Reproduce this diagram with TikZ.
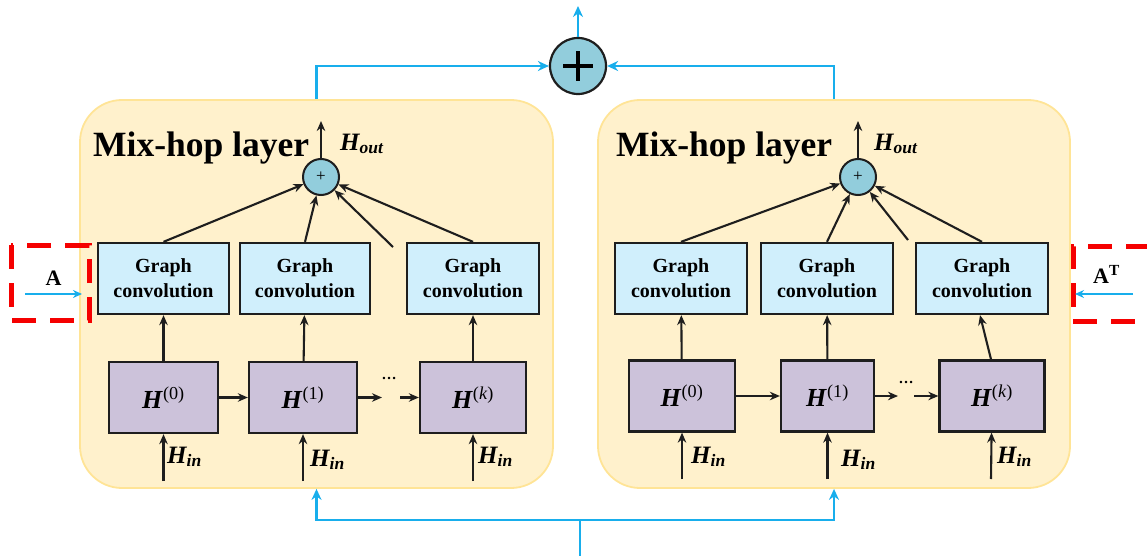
\documentclass[tikz,border=0pt]{standalone}
\usepackage{fontspec}
\setmainfont{Liberation Serif}
\usetikzlibrary{arrows.meta}
\definecolor{panelY}{RGB}{255,241,204}
\definecolor{panelB}{RGB}{255,228,150}
\definecolor{convB}{RGB}{208,239,252}
\definecolor{hP}{RGB}{204,194,218}
\definecolor{circB}{RGB}{146,205,220}
\definecolor{bl}{RGB}{24,174,236}
\definecolor{boxK}{RGB}{30,30,30}
\definecolor{redD}{RGB}{245,0,0}
\begin{document}
\begin{tikzpicture}[x=1pt,y=-1pt,
 panel/.style={draw=panelB, fill=panelY, line width=1.8pt, rounded corners=42pt, inner sep=0pt},
 conv/.style={draw=boxK, fill=convB, line width=2.3pt, minimum height=71pt, inner sep=0pt, align=center, font=\fontsize{20}{25}\selectfont\bfseries},
 hbox/.style={draw=boxK, fill=hP, line width=2.3pt, minimum height=71pt, inner sep=0pt, font=\fontsize{26}{30}\selectfont},
 sumc/.style={circle, draw=boxK, fill=circB, line width=2pt, inner sep=0pt, minimum size=36pt},
 blk/.style={draw=boxK, line width=2.1pt, -{Stealth[length=10pt,width=8.5pt]}},
 blu/.style={draw=bl, line width=2.4pt, -{Stealth[length=11pt,width=10pt]}},
 title/.style={anchor=base west, inner sep=0pt, font=\fontsize{35.5}{40}\selectfont\bfseries},
 lab/.style={anchor=base west, inner sep=0pt, font=\fontsize{25}{30}\selectfont\bfseries\itshape},
 dotsn/.style={anchor=base, inner sep=0pt, font=\fontsize{15}{15}\selectfont\bfseries},
 redbox/.style={draw=redD, line width=5pt, dash pattern=on 24pt off 14pt},
 alab/.style={inner sep=0pt, font=\fontsize{22}{22}\selectfont\bfseries},
]
\useasboundingbox (0,0) rectangle (1147,556);

% panels
\node[panel, minimum width=473pt, minimum height=388pt] (lpan) at (316.5,294) {};
\node[panel, minimum width=472pt, minimum height=388pt] (rpan) at (834,294) {};

% titles
\node[title] (lt) at (93,157) {Mix-hop layer};
\node[title] (rt) at (616,157) {Mix-hop layer};

% small sums
\node[sumc] (ls) at (321,177) {\fontsize{17}{17}\selectfont +};
\node[sumc] (rs) at (858,177) {\fontsize{17}{17}\selectfont +};

% outputs
\coordinate (lo) at (321,121);
\coordinate (ro) at (858,121);
\draw[blk] (ls) -- (lo);
\draw[blk] (rs) -- (ro);
\node[lab] (lho) at (340,150) {H\textsubscript{out}};
\node[lab] (rho) at (874,150) {H\textsubscript{out}};

% graph convolution boxes
\node[conv, minimum width=131pt] (lc1) at (163.5,278.5) {Graph\\convolution};
\node[conv, minimum width=130pt] (lc2) at (305,278.5) {Graph\\convolution};
\node[conv, minimum width=132pt] (lc3) at (473,278.5) {Graph\\convolution};
\node[conv, minimum width=132pt] (rc1) at (681,278.5) {Graph\\convolution};
\node[conv, minimum width=132pt] (rc2) at (827,278.5) {Graph\\convolution};
\node[conv, minimum width=132pt] (rc3) at (982,278.5) {Graph\\convolution};

% H boxes
\node[hbox, minimum width=109pt] (lh0) at (163.5,397.5) {\textbf{\textit{H}}\textsuperscript{(0)}};
\node[hbox, minimum width=108pt] (lh1) at (303,397.5) {\textbf{\textit{H}}\textsuperscript{(1)}};
\node[hbox, minimum width=106pt] (lhk) at (473,397.5) {\textbf{\textit{H}}\textsuperscript{(\textit{k})}};
\node[hbox, minimum width=106pt] (rh0) at (682,396) {\textbf{\textit{H}}\textsuperscript{(0)}};
\node[hbox, minimum width=93pt] (rh1) at (827.5,396) {\textbf{\textit{H}}\textsuperscript{(1)}};
\node[hbox, minimum width=105pt] (rhk) at (992,396) {\textbf{\textit{H}}\textsuperscript{(\textit{k})}};

% conv -> sum
\coordinate (lf) at (393,247);
\coordinate (rf) at (908,240);
\draw[blk] (lc1.north) -- (ls);
\draw[blk] (lc2.north) -- (ls);
\draw[blk] (lf) -- (ls);
\draw[blk] (lc3.north) -- (ls);
\draw[blk] (rc1.north) -- (rs);
\draw[blk] (rc2.north) -- (rs);
\draw[blk] (rf) -- (rs);
\draw[blk] (rc3.north) -- (rs);

% H -> conv
\draw[blk] (lh0) -- (lc1);
\draw[blk] (lh1) -- (lc2);
\draw[blk] (lhk) -- (lc3);
\draw[blk] (rh0) -- (rc1);
\draw[blk] (rh1) -- (rc2);
\draw[blk] ([xshift=-1pt]rhk.north) -- ([xshift=-2pt]rc3.south);

% H chain
\coordinate (ld1) at (382,397.5);
\coordinate (ld2) at (400,397.5);
\coordinate (rd1) at (898,396);
\coordinate (rd2) at (914,396);
\draw[blk] (lh0) -- (lh1);
\draw[blk] (lh1) -- (ld1);
\draw[blk] (ld2) -- (lhk);
\draw[blk] (rh0) -- (rh1);
\draw[blk] (rh1) -- (rd1);
\draw[blk] (rd2) -- (rhk);
\node[dotsn] (ldots) at (389,379) {\ldots};
\node[dotsn] (rdots) at (906,383) {\ldots};

% H_in inputs
\coordinate (li1) at (163.5,481);
\coordinate (li2) at (303,481);
\coordinate (li3) at (473,481);
\coordinate (ri1) at (682,479);
\coordinate (ri2) at (827.5,479);
\coordinate (ri3) at (991,479);
\draw[blk] (li1) -- (lh0);
\draw[blk] (li2) -- (lh1);
\draw[blk] (li3) -- (lhk);
\draw[blk] (ri1) -- (rh0);
\draw[blk] (ri2) -- (rh1);
\draw[blk] (ri3) -- (rhk);
\node[lab] (lin1) at (167,463) {H\textsubscript{in}};
\node[lab] (lin2) at (310,466) {H\textsubscript{in}};
\node[lab] (lin3) at (478,463) {H\textsubscript{in}};
\node[lab] (rin1) at (691,463) {H\textsubscript{in}};
\node[lab] (rin2) at (841,466) {H\textsubscript{in}};
\node[lab] (rin3) at (997,463) {H\textsubscript{in}};

% big sum
\node[sumc, minimum size=56pt, line width=2.2pt] (bs) at (578,66) {};
\draw[line width=3.2pt] ([xshift=-15pt]bs.center) -- ([xshift=15pt]bs.center);
\draw[line width=3.2pt] ([yshift=-15pt]bs.center) -- ([yshift=15pt]bs.center);
\coordinate (bo) at (578,6);
\draw[blu] (lpan.north) |- (bs.west);
\draw[blu] (rpan.north) |- (bs.east);
\draw[blu] (bs) -- (bo);
\coordinate (bb) at (580,560);
\coordinate (bm) at (580,520);
\draw[draw=bl, line width=2.4pt] (bb) -- (bm);
\draw[blu] (bm) -| (lpan.south);
\draw[blu] (bm) -| (rpan.south);

% adjacency inputs
\draw[redbox] (11,245) rectangle (89,320);
\draw[redbox] (1150,246) -- (1073,246) -- (1073,321) -- (1150,321);
\coordinate (a1) at (25,294);
\coordinate (a2) at (82,294);
\coordinate (t1) at (1133,294);
\coordinate (t2) at (1075,294);
\draw[draw=bl, line width=1.8pt, -{Stealth[length=9pt,width=8pt]}] (a1) -- (a2);
\draw[draw=bl, line width=1.8pt, -{Stealth[length=9pt,width=8pt]}] (t1) -- (t2);
\node[alab, anchor=base] (la) at (53.5,285) {A};
\node[alab, anchor=base west] (lat) at (1093,283) {A\textsuperscript{T}};
\end{tikzpicture}
\end{document}
